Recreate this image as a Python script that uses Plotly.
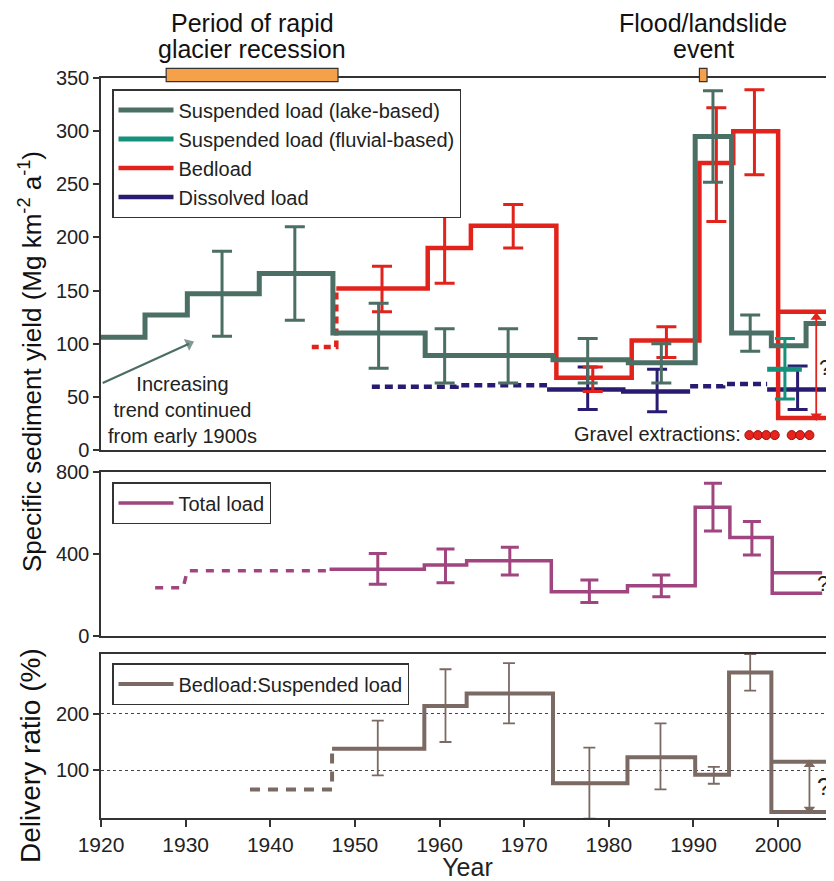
import plotly.graph_objects as go

FONT = "Liberation Sans, Arial, sans-serif"

# ---------------- data ----------------
x_range = [1920, 2006.6]

# Suspended load (lake-based): step edges (years) and step values
sl_edges = [1920, 1925.2, 1930.2, 1938.7, 1947.4, 1958.3, 1973.4, 1982.3, 1990.2, 1994.5, 1999.2, 2003.3, 2006.6]
sl_values = [106, 127, 147, 166, 110, 89, 85, 82, 295, 110, 98, 119]
sl_err_x = [1934.3, 1942.9, 1952.8, 1960.6, 1968.1, 1977.5, 1986.2, 1992.3, 1996.7]
sl_err_hi = [187, 210, 138, 114, 114, 105, 100, 338, 127]
sl_err_lo = [107, 122, 77, 63, 63, 63, 63, 252, 93]

# Suspended load (fluvial-based)
fl_edges = [1998.7, 2002.8]
fl_values = [76]
fl_err_x = [2000.8]
fl_err_hi = [105]
fl_err_lo = [48]

# Bedload
bl_dash_x = [1944.9, 1947.8, 1947.8]
bl_dash_y = [97, 97, 152]
bl_edges = [1947.8, 1958.6, 1963.7, 1973.8, 1982.7, 1990.7, 1994.7, 2000.0, 2006.6]
bl_values = [152, 190, 211, 68, 103, 270, 300, 30]
bl_alt_edges = [2000.0, 2006.6]
bl_alt_values = [130]
bl_err_x = [1953.2, 1960.6, 1968.7, 1978.1, 1986.8, 1992.7, 1997.2]
bl_err_hi = [173, 222, 231, 78, 116, 322, 339]
bl_err_lo = [130, 157, 190, 55, 87, 215, 259]
bl_range_x = [2004.5, 2004.5]
bl_range_y = [32, 125]

# Dissolved load (dashed = estimated, solid = measured)
dl_dash1_edges = [1952.0, 1962.0, 1972.7]
dl_dash1_values = [59.5, 61]
dl_solid1_edges = [1972.7, 1981.7, 1989.6]
dl_solid1_values = [57, 55]
dl_dash2_edges = [1989.6, 1993.5, 1998.7]
dl_dash2_values = [60, 62]
dl_solid2_edges = [1998.7, 2005.8]
dl_solid2_values = [57]
dl_err_x = [1977.5, 1985.7, 2002.3]
dl_err_mid = [57, 55, 57]
dl_err_hi = [78, 76, 79]
dl_err_lo = [38, 36, 38]

# Increasing-trend arrow (from axis towards the early steps)
trend_x = [1920.2, 1930.4]
trend_y = [63, 100]

# Gravel extraction years
gravel_years = [1996.6, 1997.6, 1998.6, 1999.6, 2001.6, 2002.6, 2003.7]
gravel_level = [14] * len(gravel_years)

# Total load
tl_dash_x = [1926.4, 1929.7, 1930.2, 1947.0]
tl_dash_y = [235, 235, 318, 318]
tl_edges = [1947.0, 1958.2, 1963.2, 1973.2, 1982.2, 1990.2, 1994.3, 1999.3, 2005.2]
tl_values = [326, 346, 367, 216, 245, 628, 480, 208]
tl_alt_edges = [1999.3, 2005.2]
tl_alt_values = [309]
tl_err_x = [1952.7, 1960.7, 1968.3, 1977.7, 1986.2, 1992.3, 1996.9]
tl_err_hi = [403, 424, 433, 273, 298, 745, 558]
tl_err_lo = [252, 260, 298, 163, 192, 512, 395]

# Delivery ratio (Bedload:Suspended load, %)
dr_dash_x = [1937.6, 1947.3, 1947.3]
dr_dash_y = [66, 66, 132]
dr_edges = [1947.3, 1958.2, 1963.2, 1973.4, 1982.2, 1990.2, 1994.2, 1999.2, 2006.6]
dr_values = [138, 214, 236, 77, 123, 92, 273, 26]
dr_alt_edges = [1999.2, 2006.6]
dr_alt_values = [115]
dr_err_x = [1952.7, 1960.7, 1968.2, 1977.7, 1986.1, 1992.4, 1996.7]
dr_err_hi = [188, 279, 290, 140, 183, 106, 306]
dr_err_lo = [91, 150, 183, 14, 66, 76, 241]
dr_range_x = [2003.7, 2003.7]
dr_range_y = [31, 110]

# Periods marked above the top panel
glacier_period = [1927.7, 1948.0]
flood_period = [1990.7, 1991.6]

# ---------------- styling ----------------
C_SL = "#4b6e65"
C_FL = "#15917c"
C_BL = "#e2231c"
C_DL = "#2a1b72"
C_TL = "#a0457f"
C_DR = "#7b6a63"
C_OR = "#f4a14a"
AX = "#333333"

OFF = 8          # page body margin in the browser
W, H = 834 - OFF, 881 - OFF
L = 101 - OFF    # plot left edge in figure px
PW = W - L       # plot width


def step_xy(edges, values):
    return list(edges), list(values) + [values[-1]]


def value_at(edges, values, x):
    for i, v in enumerate(values):
        if edges[i] <= x <= edges[i + 1]:
            return v
    return values[-1]


def py(page_px):
    """page pixel row -> paper fraction"""
    return (H - (page_px - OFF)) / H


def px(page_px):
    """page pixel column -> paper fraction"""
    return (page_px - 101) / PW


fig = go.Figure()


def add_step(edges, values, color, width, xa, ya, name=None, legend="legend",
             dash="solid", showlegend=False, rank=1000):
    x, y = step_xy(edges, values)
    fig.add_trace(go.Scatter(
        x=x, y=y, mode="lines", line=dict(shape="hv", color=color, width=width, dash=dash),
        name=name, showlegend=showlegend, legend=legend, legendrank=rank,
        xaxis=xa, yaxis=ya, hoverinfo="skip"))


def add_line(xs, ys, color, width, xa, ya, dash, legend="legend"):
    fig.add_trace(go.Scatter(
        x=xs, y=ys, mode="lines", line=dict(color=color, width=width, dash=dash),
        showlegend=False, legend=legend, xaxis=xa, yaxis=ya, hoverinfo="skip"))


def add_err(xs, mids, his, los, color, thick, capw, xa, ya, legend="legend"):
    fig.add_trace(go.Scatter(
        x=xs, y=mids, mode="markers", marker=dict(size=2, color=color, opacity=0),
        error_y=dict(type="data", symmetric=False,
                     array=[h - m for h, m in zip(his, mids)],
                     arrayminus=[m - l for l, m in zip(los, mids)],
                     color=color, thickness=thick, width=capw),
        showlegend=False, legend=legend, xaxis=xa, yaxis=ya, hoverinfo="skip"))


def add_double_arrow(xs, ys, color, width, xa, ya, legend="legend"):
    fig.add_trace(go.Scatter(
        x=xs, y=ys, mode="lines+markers", line=dict(color=color, width=width),
        marker=dict(symbol=["triangle-down", "triangle-up"], size=10, color=color,
                    line=dict(width=0)),
        showlegend=False, legend=legend, xaxis=xa, yaxis=ya, hoverinfo="skip", cliponaxis=False))


# ---- top panel ----
add_step(dl_dash1_edges, dl_dash1_values, C_DL, 4.5, "x", "y", dash="8px,5px")
add_step(dl_solid1_edges, dl_solid1_values, C_DL, 4.5, "x", "y", name="Dissolved load",
         showlegend=True, rank=4)
add_step(dl_dash2_edges, dl_dash2_values, C_DL, 4.5, "x", "y", dash="8px,5px")
add_step(dl_solid2_edges, dl_solid2_values, C_DL, 4.5, "x", "y")
add_err(dl_err_x, dl_err_mid, dl_err_hi, dl_err_lo, C_DL, 3, 10, "x", "y")

add_line(bl_dash_x, bl_dash_y, C_BL, 4.5, "x", "y", "7px,5px")
add_step(bl_edges, bl_values, C_BL, 4.5, "x", "y", name="Bedload", showlegend=True, rank=3)
add_step(bl_alt_edges, bl_alt_values, C_BL, 4.5, "x", "y")
add_err(bl_err_x, [value_at(bl_edges, bl_values, x) for x in bl_err_x], bl_err_hi, bl_err_lo,
        C_BL, 3, 10, "x", "y")

add_step(sl_edges, sl_values, C_SL, 5, "x", "y", name="Suspended load (lake-based)",
         showlegend=True, rank=1)
add_err(sl_err_x, [value_at(sl_edges, sl_values, x) for x in sl_err_x], sl_err_hi, sl_err_lo,
        C_SL, 3, 10, "x", "y")

add_step(fl_edges, fl_values, C_FL, 5, "x", "y", name="Suspended load (fluvial-based)",
         showlegend=True, rank=2)
add_err(fl_err_x, [value_at(fl_edges, fl_values, x) for x in fl_err_x], fl_err_hi, fl_err_lo,
        C_FL, 3, 10, "x", "y")

add_double_arrow(bl_range_x, bl_range_y, C_BL, 1.8, "x", "y")

fig.add_trace(go.Scatter(
    x=trend_x, y=trend_y, mode="lines+markers", line=dict(color=C_SL, width=2.2),
    marker=dict(symbol=["circle", "triangle-up"], size=[0, 11], angleref="previous",
                color=C_SL, line=dict(width=0)),
    showlegend=False, xaxis="x", yaxis="y", hoverinfo="skip", cliponaxis=False))

fig.add_trace(go.Scatter(
    x=gravel_years, y=gravel_level, mode="markers",
    marker=dict(size=9, color="#e8231c", line=dict(color="#9a1010", width=1)),
    showlegend=False, xaxis="x", yaxis="y", hoverinfo="skip", cliponaxis=False))

# ---- middle panel ----
add_line(tl_dash_x, tl_dash_y, C_TL, 3.5, "x2", "y2", "8px,8px", legend="legend2")
add_step(tl_edges, tl_values, C_TL, 3.5, "x2", "y2", name="Total load", legend="legend2",
         showlegend=True, rank=1)
add_step(tl_alt_edges, tl_alt_values, C_TL, 3.5, "x2", "y2", legend="legend2")
add_err(tl_err_x, [value_at(tl_edges, tl_values, x) for x in tl_err_x], tl_err_hi, tl_err_lo,
        C_TL, 3, 9, "x2", "y2", legend="legend2")

# ---- bottom panel ----
add_line(dr_dash_x, dr_dash_y, C_DR, 4, "x3", "y3", "10px,8px", legend="legend3")
add_step(dr_edges, dr_values, C_DR, 4, "x3", "y3", name="Bedload:Suspended load", legend="legend3",
         showlegend=True, rank=1)
add_step(dr_alt_edges, dr_alt_values, C_DR, 4, "x3", "y3", legend="legend3")
add_err(dr_err_x, [value_at(dr_edges, dr_values, x) for x in dr_err_x], dr_err_hi, dr_err_lo,
        C_DR, 1.8, 6, "x3", "y3", legend="legend3")
add_double_arrow(dr_range_x, dr_range_y, C_DR, 1.8, "x3", "y3", legend="legend3")

# ---------------- layout ----------------
common_x = dict(range=x_range, showline=True, mirror=True, linecolor=AX, linewidth=1.5,
                showgrid=False, zeroline=False, domain=[0, 1])
common_y = dict(showline=True, linecolor=AX, linewidth=1.5, ticks="outside", ticklen=6,
                tickwidth=1.5, tickcolor=AX, showgrid=False, zeroline=False,
                tickfont=dict(size=20, color="#222"))

legend_common = dict(xanchor="left", yanchor="top", bgcolor="white", bordercolor=AX,
                     borderwidth=1.5, font=dict(size=20, color="#222"), tracegroupgap=0,
                     itemwidth=55)

fig.update_layout(
    template="none",
    width=W, height=H,
    margin=dict(l=L, r=0, t=0, b=0),
    paper_bgcolor="white", plot_bgcolor="white",
    font=dict(family=FONT, size=20, color="#222"),
    xaxis=dict(**common_x, anchor="y", showticklabels=False, ticks=""),
    xaxis2=dict(**common_x, anchor="y2", showticklabels=False, ticks=""),
    xaxis3=dict(**common_x, anchor="y3", ticks="outside", ticklen=7, tickwidth=1.5, tickcolor=AX,
                tickvals=list(range(1920, 2001, 10)), tickfont=dict(size=21, color="#222"),
                title=dict(text="Year", font=dict(size=25, color="#222"), standoff=2)),
    yaxis=dict(**common_y, anchor="x", domain=[py(450), py(78)], range=[0, 350],
               tickvals=[0, 50, 100, 150, 200, 250, 300, 350]),
    yaxis2=dict(**common_y, anchor="x2", domain=[py(636), py(472)], range=[0, 800],
                tickvals=[0, 400, 800]),
    yaxis3=dict(**{**common_y, "showgrid": True}, anchor="x3", domain=[py(818), py(654)],
                range=[15.3, 306], tickvals=[100, 200], gridcolor="#444", griddash="dot",
                gridwidth=1.2),
    legend=dict(**legend_common, x=px(112), y=py(89)),
    legend2=dict(**legend_common, x=px(112), y=py(482)),
    legend3=dict(**legend_common, x=px(112), y=py(663)),
    hovermode=False,
)

shapes = [
    dict(type="rect", xref="x", yref="paper", x0=glacier_period[0], x1=glacier_period[1],
         y0=py(81.7), y1=py(68.3), fillcolor=C_OR, line=dict(color="#333", width=1.2),
         layer="above"),
    dict(type="rect", xref="x", yref="paper", x0=flood_period[0], x1=flood_period[1],
         y0=py(81.7), y1=py(68.3), fillcolor=C_OR, line=dict(color="#333", width=1.2),
         layer="above"),
]
fig.update_layout(shapes=shapes)

ann = [
    dict(text="Period of rapid", xref="x", yref="paper",
         x=sum(glacier_period) / 2, y=py(23), showarrow=False,
         font=dict(size=25, color="#111"), xanchor="center", yanchor="middle"),
    dict(text="glacier recession", xref="x", yref="paper",
         x=sum(glacier_period) / 2, y=py(49), showarrow=False,
         font=dict(size=25, color="#111"), xanchor="center", yanchor="middle"),
    dict(text="Flood/landslide", xref="x", yref="paper",
         x=sum(flood_period) / 2, y=py(23), showarrow=False,
         font=dict(size=25, color="#111"), xanchor="center", yanchor="middle"),
    dict(text="event", xref="x", yref="paper",
         x=sum(flood_period) / 2, y=py(49), showarrow=False,
         font=dict(size=25, color="#111"), xanchor="center", yanchor="middle"),
    dict(text="Increasing<br>trend continued<br>from early 1900s", xref="x", yref="y",
         x=1929.6, y=38, showarrow=False, font=dict(size=20, color="#222"),
         xanchor="center", yanchor="middle"),
    dict(text="Gravel extractions:", xref="x", yref="y", x=1995.8, y=15,
         showarrow=False, font=dict(size=20, color="#222"), xanchor="right",
         yanchor="middle"),
    dict(text="?", xref="x", yref="y", x=2005.5, y=78, showarrow=False,
         font=dict(size=22, color="#222"), xanchor="center", yanchor="middle"),
    dict(text="?", xref="x2", yref="y2", x=2005.3, y=258, showarrow=False,
         font=dict(size=22, color="#222"), xanchor="center", yanchor="middle"),
    dict(text="?", xref="x3", yref="y3", x=2005.3, y=71, showarrow=False,
         font=dict(size=24, color="#222"), xanchor="center", yanchor="middle"),
    dict(text="Specific sediment yield (Mg km<sup>-2</sup> a<sup>-1</sup>)",
         xref="paper", yref="paper", x=px(30), y=py(362),
         textangle=-90, showarrow=False, font=dict(size=26, color="#111"),
         xanchor="center", yanchor="middle"),
    dict(text="Delivery ratio (%)", xref="paper", yref="paper",
         x=px(30), y=py(756), textangle=-90, showarrow=False,
         font=dict(size=28, color="#111"), xanchor="center", yanchor="middle"),
]
fig.update_layout(annotations=ann)

fig.write_html("out.html")
